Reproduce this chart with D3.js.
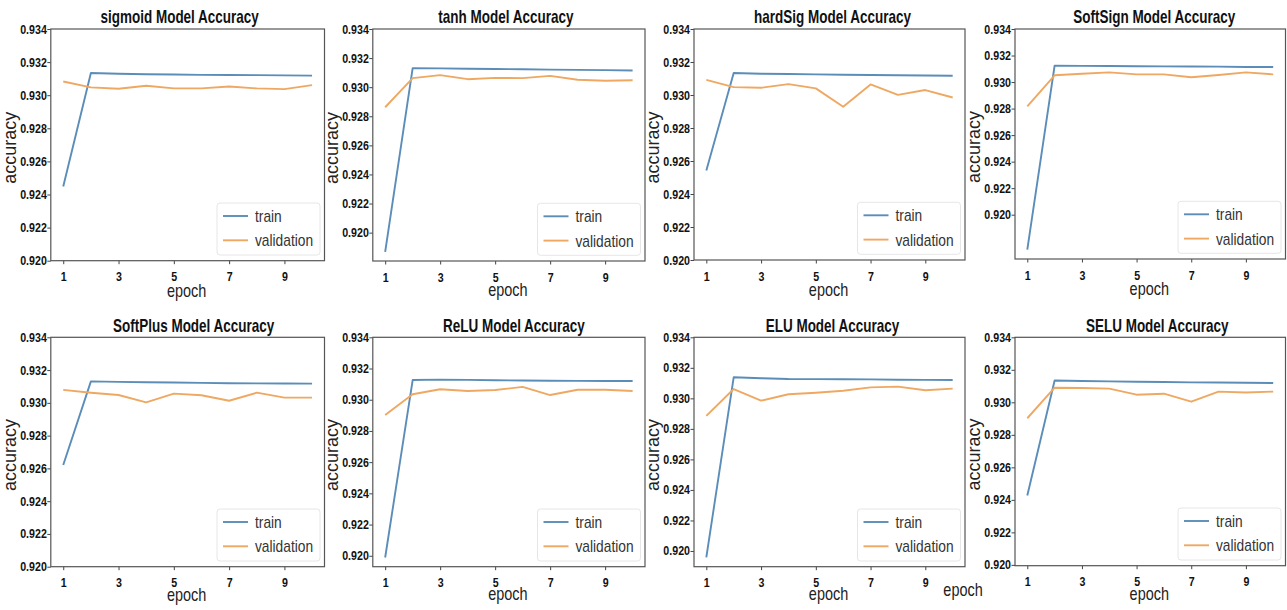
<!DOCTYPE html>
<html>
<head>
<meta charset="utf-8">
<script src="https://cdn.jsdelivr.net/npm/d3@7"></script>
<style>
  html, body { margin: 0; padding: 0; background: #fff; }
  svg { display: block; }
  text { font-family: "Liberation Sans", Arial, sans-serif; }
</style>
</head>
<body>
<svg id="chart" width="1287" height="610"></svg>
<script>
// ---------- data ----------
const epochs = [1, 2, 3, 4, 5, 6, 7, 8, 9, 10];
const xTicks = [1, 3, 5, 7, 9];
const yTicks = [0.920, 0.922, 0.924, 0.926, 0.928, 0.930, 0.932, 0.934];
const seriesNames = ["train", "validation"];
const modelNames = ["sigmoid", "tanh", "hardSig", "SoftSign", "SoftPlus", "ReLU", "ELU", "SELU"];

const sigmoidTrain  = [0.92448, 0.93134, 0.93130, 0.93127, 0.93125, 0.93123, 0.93122, 0.93121, 0.93120, 0.93118];
const sigmoidVal    = [0.93083, 0.93047, 0.93039, 0.93057, 0.93041, 0.93041, 0.93053, 0.93041, 0.93037, 0.93061];
const tanhTrain     = [0.91867, 0.93131, 0.93129, 0.93127, 0.93125, 0.93123, 0.93121, 0.93119, 0.93117, 0.93115];
const tanhVal       = [0.92862, 0.93062, 0.93083, 0.93055, 0.93064, 0.93062, 0.93078, 0.93051, 0.93044, 0.93048];
const hardSigTrain  = [0.92542, 0.93133, 0.93129, 0.93127, 0.93125, 0.93123, 0.93121, 0.93120, 0.93118, 0.93117];
const hardSigVal    = [0.93092, 0.93048, 0.93044, 0.93066, 0.93040, 0.92929, 0.93064, 0.93001, 0.93030, 0.92985];
const softSignTrain = [0.91736, 0.93124, 0.93122, 0.93121, 0.93119, 0.93118, 0.93117, 0.93116, 0.93114, 0.93113];
const softSignVal   = [0.92817, 0.93051, 0.93063, 0.93073, 0.93058, 0.93058, 0.93036, 0.93053, 0.93073, 0.93058];
const softPlusTrain = [0.92621, 0.93131, 0.93128, 0.93126, 0.93124, 0.93122, 0.93120, 0.93119, 0.93118, 0.93117];
const softPlusVal   = [0.93079, 0.93062, 0.93048, 0.93003, 0.93056, 0.93046, 0.93013, 0.93062, 0.93032, 0.93032];
const reluTrain     = [0.91989, 0.93126, 0.93129, 0.93127, 0.93125, 0.93123, 0.93122, 0.93121, 0.93120, 0.93120];
const reluVal       = [0.92902, 0.93035, 0.93067, 0.93056, 0.93062, 0.93082, 0.93030, 0.93064, 0.93064, 0.93056];
const eluTrain      = [0.91958, 0.93138, 0.93132, 0.93127, 0.93126, 0.93125, 0.93124, 0.93122, 0.93121, 0.93120];
const eluVal        = [0.92885, 0.93061, 0.92985, 0.93027, 0.93037, 0.93050, 0.93072, 0.93077, 0.93053, 0.93064];
const seluTrain     = [0.92427, 0.93134, 0.93131, 0.93129, 0.93127, 0.93125, 0.93123, 0.93122, 0.93120, 0.93119];
const seluVal       = [0.92902, 0.93090, 0.93088, 0.93084, 0.93047, 0.93053, 0.93004, 0.93066, 0.93060, 0.93066];

const trainValues = [sigmoidTrain, tanhTrain, hardSigTrain, softSignTrain, softPlusTrain, reluTrain, eluTrain, seluTrain];
const valValues   = [sigmoidVal, tanhVal, hardSigVal, softSignVal, softPlusVal, reluVal, eluVal, seluVal];
// lower y limit of each panel (upper is 0.934)
const yMins = [0.920, 0.91805, 0.920, 0.91666, 0.920, 0.91930, 0.91897, 0.91995];

// ---------- layout ----------
const frames = [
  { l: 50.8, t: 29,    r: 324.5, b: 260.7, tdx: -8, lab: 36 },
  { l: 372.8, t: 29,   r: 645,   b: 261,   tdx: -3, lab: 35 },
  { l: 694,  t: 29,    r: 965,   b: 260,   tdx: 3,  lab: 36 },
  { l: 1015, t: 29,    r: 1285.5, b: 259,  tdx: 4,  lab: 36 },
  { l: 50.8, t: 337.3, r: 324.5, b: 566.7, tdx: 6,  lab: 34 },
  { l: 372.8, t: 337.3, r: 645,  b: 566.7, tdx: 5,  lab: 33 },
  { l: 694,  t: 337.3, r: 965,   b: 566.7, tdx: 3,  lab: 33 },
  { l: 1015, t: 337.3, r: 1285.5, b: 565.7, tdx: 7, lab: 34 }
];
const trainColor = "#5b8db8";
const valColor = "#efa862";
const colors = [trainColor, valColor];

const svg = d3.select("#chart");

// text with horizontal condensing (reference fonts are narrow)
function label(parent, x, y, str, size, opts = {}) {
  const sx = opts.sx || 1, rot = opts.rot || 0;
  return parent.append("text")
    .attr("transform", `translate(${x},${y}) rotate(${rot}) scale(${sx},1)`)
    .attr("text-anchor", opts.anchor || "middle")
    .style("font-size", size + "px")
    .style("font-weight", opts.bold ? "bold" : "normal")
    .attr("fill", opts.fill || "#222")
    .text(str);
}

frames.forEach((f, i) => {
  const x = d3.scaleLinear().domain([0.55, 10.45]).range([f.l, f.r]);
  const y = d3.scaleLinear().domain([yMins[i], 0.934]).range([f.b, f.t]);
  const g = svg.append("g");

  // axes (tick marks from d3, labels condensed)
  const xAxis = d3.axisBottom(x).tickValues(xTicks).tickSize(3.5).tickFormat(d3.format("d"));
  const yAxis = d3.axisLeft(y).tickValues(yTicks.filter(v => v >= yMins[i] - 1e-9)).tickSize(3.5).tickFormat(d3.format(".3f"));
  const gx = g.append("g").attr("transform", `translate(0,${f.b})`).call(xAxis);
  const gy = g.append("g").attr("transform", `translate(${f.l},0)`).call(yAxis);
  [gx, gy].forEach(a => {
    a.select(".domain").remove();
    a.selectAll(".tick line").attr("stroke", "#444").attr("stroke-width", 1);
  });
  gx.selectAll(".tick text")
    .attr("y", null).attr("dy", null)
    .attr("transform", "translate(0,20.5) scale(0.82,1)")
    .attr("fill", "#111").style("font-size", "13px").style("font-weight", "bold");
  gy.selectAll(".tick text")
    .attr("x", null).attr("dy", null)
    .attr("transform", "translate(-4,4) scale(0.82,1)")
    .attr("fill", "#111").style("font-size", "13px").style("font-weight", "bold");

  // lines
  const line = d3.line().x((d, k) => x(epochs[k])).y(d => y(d));
  [trainValues[i], valValues[i]].forEach((vals, s) => {
    g.append("path").datum(vals)
      .attr("fill", "none").attr("stroke", colors[s]).attr("stroke-width", 1.9)
      .attr("stroke-linejoin", "round").attr("d", line);
  });

  // frame
  g.append("rect").attr("x", f.l).attr("y", f.t).attr("width", f.r - f.l).attr("height", f.b - f.t)
    .attr("fill", "none").attr("stroke", "#555").attr("stroke-width", 1.2);

  // title
  label(g, (f.l + f.r) / 2 + f.tdx, f.t - 5.7, modelNames[i] + " Model Accuracy", 18, { sx: 0.75, bold: true, fill: "#111" });

  // axis labels
  label(g, (f.l + f.r) / 2 - 1, f.b + f.lab, "epoch", 18.5, { sx: 0.78 });
  label(g, f.l - 35, (f.t + f.b) / 2 + 3, "accuracy", 18, { rot: -90 });

  // legend
  const lw = 103, lh = 52;
  const lx = f.r - 4.5 - lw, ly = f.b - 5.7 - lh;
  const lg = g.append("g").attr("transform", `translate(${lx},${ly})`);
  lg.append("rect").attr("width", lw).attr("height", lh).attr("rx", 3)
    .attr("fill", "#fff").attr("fill-opacity", 0.85).attr("stroke", "#e6e6e6");
  seriesNames.forEach((nm, s) => {
    const yy = 13 + s * 24.3;
    lg.append("line").attr("x1", 6).attr("x2", 31).attr("y1", yy).attr("y2", yy)
      .attr("stroke", colors[s]).attr("stroke-width", 1.9);
    label(lg, 38, yy + 6, nm, 16, { sx: 0.86, anchor: "start", fill: "#333" });
  });
});

// stray axis label present in the reference image
label(svg, 963, 596, "epoch", 18.5, { sx: 0.78 });
</script>
</body>
</html>
